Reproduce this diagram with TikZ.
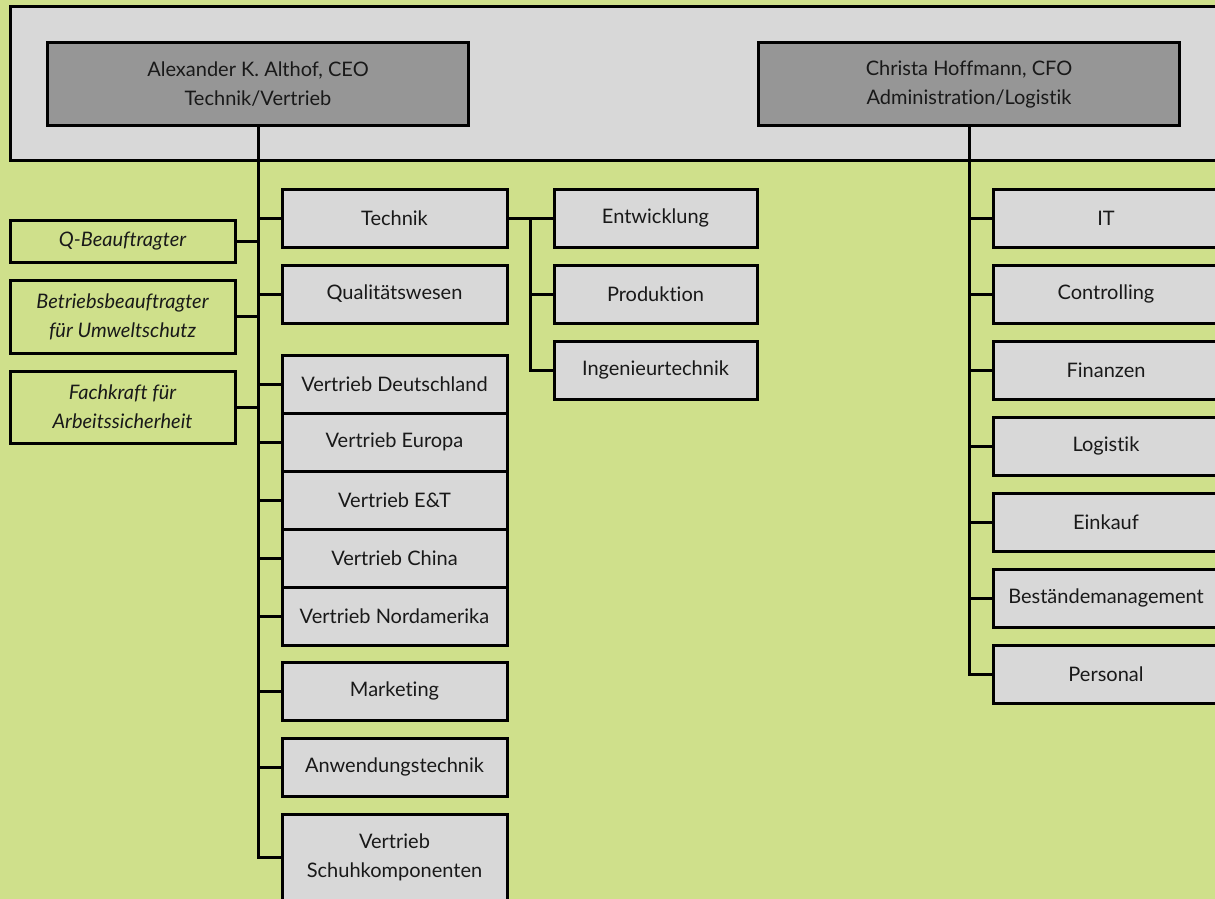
\documentclass[tikz,border=0pt]{standalone}
\usepackage{fontspec}
\setmainfont{Lato}[Ligatures={NoCommon,NoRare}]
\usetikzlibrary{calc,positioning}
\definecolor{leaf}{RGB}{207,224,139}
\definecolor{boxgray}{RGB}{216,216,216}
\definecolor{chiefgray}{RGB}{150,150,150}
\definecolor{ink}{RGB}{25,25,25}
\def\unitwidth{225}
\def\unitheight{58}
\def\rowsep{76}

\begin{document}
\begin{tikzpicture}[x=1pt,y=-1pt,line width=3pt]
    \tikzstyle{unit}=[draw=black, fill=boxgray, minimum width=\unitwidth pt, minimum height=\unitheight pt, inner sep=0pt, align=center, text=ink, font=\fontsize{20}{29}\selectfont]
    \tikzstyle{chief}=[unit, fill=chiefgray, minimum width=421pt, minimum height=82pt]
    \tikzstyle{staff}=[unit, fill=leaf, font=\fontsize{20}{29}\selectfont\itshape]
    \tikzstyle{link}=[draw=black, line width=3pt]

    % Background and board panel
    \useasboundingbox (0,0) rectangle (1215,899);
    \fill[leaf] (0,0) rectangle (1215,899);
    \draw[fill=boxgray] (10,7) rectangle (1240,160);

    % Draw the board
    \node[chief] (ceo) at (258,84) {Alexander K. Althof, CEO\\Technik/Vertrieb};
    \node[chief] (cfo) at (969,84) {Christa Hoffmann, CFO\\Administration/Logistik};

    % Draw the staff positions
    \node[staff, minimum height=42pt] (qb) at (122.5,241) {Q-Beauftragter};
    \node[staff, minimum height=73pt] (bb) at (122.5,316.5) {Betriebsbeauftragter\\für Umweltschutz};
    \node[staff, minimum height=72pt] (fk) at (122.5,407) {Fachkraft für\\Arbeitssicherheit};

    % Draw the CEO units
    \node[unit] (technik) at (394.5,218) {Technik};
    \node[unit] (quali) at (394.5,294) {Qualitätswesen};
    \foreach \name / \txt in {1/Deutschland,2/Europa,3/E\&T,4/China,5/Nordamerika}
        \path node[unit] (V-\name) at (394.5,{326+\name*58}) {Vertrieb \txt};
    \node[unit] (market) at (394.5,691) {Marketing};
    \node[unit] (anwend) at (394.5,767) {Anwendungstechnik};
    \node[unit, minimum height=86pt] (schuh) at (394.5,857) {Vertrieb\\Schuhkomponenten};

    % Draw the Technik units
    \node[unit, minimum width=203pt] (entw) at (655.5,218) {Entwicklung};
    \node[unit, minimum width=203pt] (prod) at (655.5,294) {Produktion};
    \node[unit, minimum width=203pt] (ing) at (655.5,370) {Ingenieurtechnik};

    % Draw the CFO units
    \foreach \name / \txt in {1/IT,2/Controlling,3/Finanzen,4/Logistik,5/Einkauf,6/Beständemanagement,7/Personal}
        \path node[unit] (R-\name) at (1106,{142+\name*\rowsep}) {\txt};

    % Connect the CEO side
    \draw[link] (ceo.south) |- (schuh.west);
    \foreach \name in {technik,quali,V-1,V-2,V-3,V-4,V-5,market,anwend}
        \draw[link] (\name.west) -- (\name.west -| ceo.south);
    \foreach \name in {qb,bb,fk}
        \draw[link] (\name.east) -- (\name.east -| ceo.south);

    % Connect the Technik units
    \coordinate (tk) at ($(technik.east)!0.5!(entw.west)$);
    \draw[link] (technik.east) -- (entw.west);
    \draw[link] (tk) |- (ing.west);
    \draw[link] (tk |- prod.west) -- (prod.west);

    % Connect the CFO side
    \draw[link] (cfo.south) |- (R-7.west);
    \foreach \name in {1,...,6}
        \draw[link] (R-\name.west) -- (R-\name.west -| cfo.south);
\end{tikzpicture}
\end{document}
